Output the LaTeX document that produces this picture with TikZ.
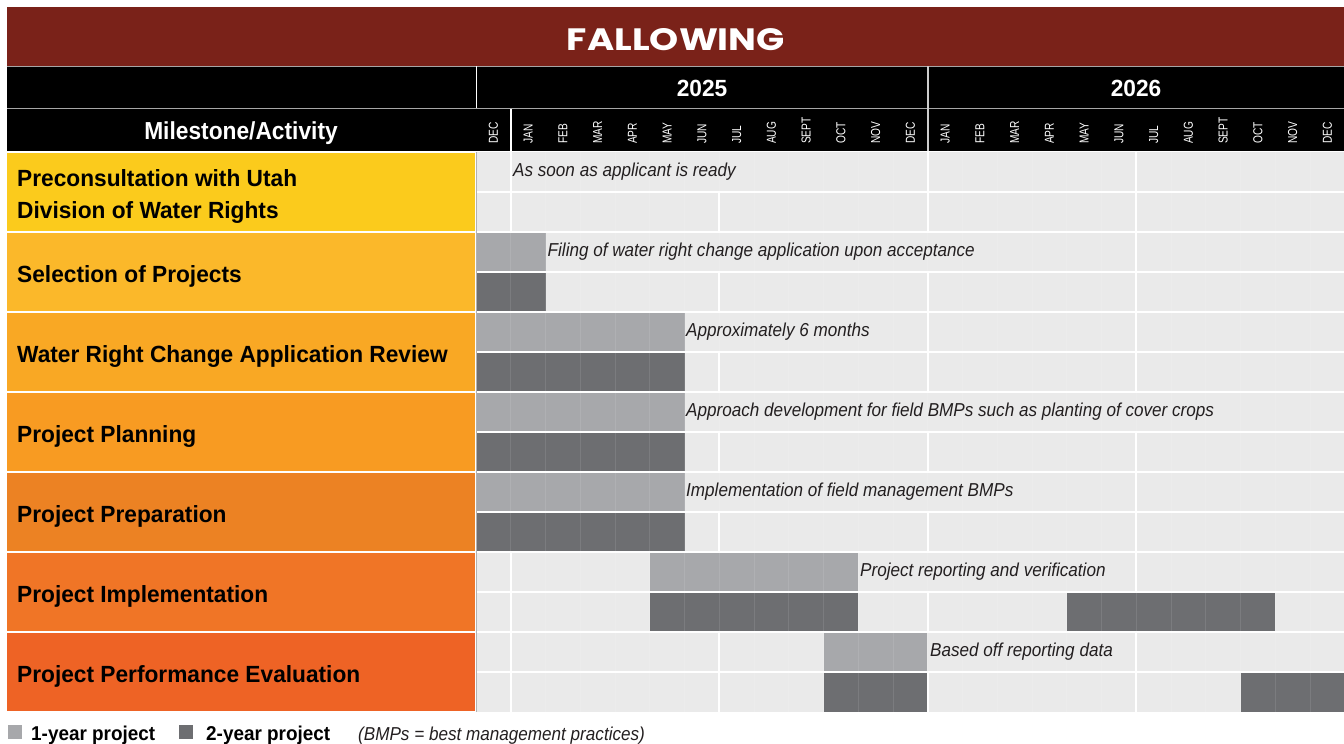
\documentclass[tikz,border=0pt]{standalone}
\usepackage{fontspec}
\usepackage{graphicx}
\setmainfont{Liberation Sans}[FakeStretch=0.97]
\newfontfamily\notefont{Liberation Sans}[FakeStretch=0.915]
\newfontfamily\headfont{Liberation Sans}[FakeStretch=0.925]
\newfontfamily\legfont{Liberation Sans}[FakeStretch=0.945]
\newfontfamily\titlefont{Poppins}
\newfontfamily\monthfont{Liberation Sans}[FakeStretch=0.78]
\definecolor{titlered}{HTML}{7A2219}
\definecolor{cellgray}{HTML}{EAEAEA}
\definecolor{barlight}{HTML}{A7A8AB}
\definecolor{bardark}{HTML}{6D6E71}
\definecolor{notegray}{HTML}{231F20}
\definecolor{rowa}{HTML}{FBCB1C}
\definecolor{rowb}{HTML}{FBB82A}
\definecolor{rowc}{HTML}{F9A824}
\definecolor{rowd}{HTML}{F89B22}
\definecolor{rowe}{HTML}{EC8223}
\definecolor{rowf}{HTML}{F07526}
\definecolor{rowg}{HTML}{EE6325}

\begin{document}
\begin{tikzpicture}[x=1pt, y=-1pt,
		rowlabel/.style={anchor=base west, inner sep=0pt, align=left, font=\bfseries\fontsize{23.4}{32}\selectfont},
		note/.style={anchor=base west, inner sep=0pt, text=notegray, font=\notefont\itshape\fontsize{18.7}{20}\selectfont},
		month/.style={anchor=west, rotate=90, inner sep=0pt, text=white, font=\monthfont\fontsize{13}{14}\selectfont},
		head/.style={anchor=base, inner sep=0pt, text=white, font=\bfseries\fontsize{23.4}{26}\selectfont},
		legtext/.style={anchor=base west, inner sep=0pt, font=\legfont\bfseries\fontsize{20}{22}\selectfont},
		onebar/.style={fill=barlight},
		twobar/.style={fill=bardark},
		gridline/.style={white, line width=2pt},
		monthline/.style={white, opacity=0.1, line width=0.6pt}]
		\useasboundingbox (0,0) rectangle (1344,744);
		% header bands
		\fill[titlered] (7,7) rectangle (1344,66);
		\fill[black] (7,66) rectangle (1344,151);
		\draw[gray!70, line width=1pt] (7,66) -- (1344,66);
		\draw[gray!70, line width=1.5pt] (7,108.5) -- (1344,108.5);
		\draw[white, line width=1pt] (476,66) -- (476,108);
		\draw[white, line width=1.5pt] (511,109) -- (511,151);
		\draw[gray!40, line width=2pt] (928,66) -- (928,151);
		\node[inner sep=0pt, text=white] (title) at (676,40) {\resizebox{218pt}{22pt}{\titlefont\bfseries FALLOWING}};
		\node[head] (y25) at (702,96.7) {2025};
		\node[head] (y26) at (1136,96.7) {2026};
		\node[head, font=\headfont\bfseries\fontsize{24.6}{26}\selectfont] (mile) at (241,139.3) {Milestone/Activity};
		\foreach \m [count=\i from 0] in {DEC,JAN,FEB,MAR,APR,MAY,JUN,JUL,AUG,SEPT,OCT,NOV,DEC,JAN,FEB,MAR,APR,MAY,JUN,JUL,AUG,SEPT,OCT,NOV,DEC}
			\node[month] (m\i) at ({476+34.75*(\i+0.5)}, 144) {\m};
		% activity column
		\foreach \c [count=\r from 0] in {rowa,rowb,rowc,rowd,rowe,rowf,rowg}
			\fill[\c] (7,{152+80*\r+0.75}) rectangle (475,{232+80*\r-0.75});
		\node[rowlabel] (pre) at (17,218.5) {Preconsultation with Utah\\Division of Water Rights};
		\node[rowlabel] (sel) at (17,282.5) {Selection of Projects};
		\node[rowlabel] (rev) at (17,362.5) {Water Right Change Application Review};
		\node[rowlabel] (plan) at (17,442.5) {Project Planning};
		\node[rowlabel] (prep) at (17,522.5) {Project Preparation};
		\node[rowlabel] (impl) at (17,602.5) {Project Implementation};
		\node[rowlabel] (eval) at (17,682.5) {Project Performance Evaluation};
		% timeline cells
		\fill[cellgray] (476,152) rectangle (1344,712);
		\foreach \r in {0,...,6}
			\foreach \i in {1,7,13,19}
				\draw[gridline] ({476+34.75*\i},{192+80*\r}) -- ({476+34.75*\i},{232+80*\r});
		\foreach \r/\i in {0/1,0/13,0/19,1/19,2/13,2/19,4/19,5/1,5/19,6/1,6/7,6/19}
			\draw[gridline] ({476+34.75*\i},{152+80*\r}) -- ({476+34.75*\i},{192+80*\r});
		% bars
		\fill[onebar] (476,232) rectangle (545.5,272);
		\fill[twobar] (476,272) rectangle (545.5,312);
		\foreach \r in {2,3,4} {
			\fill[onebar] (476,{152+80*\r}) rectangle (684.5,{192+80*\r});
			\fill[twobar] (476,{192+80*\r}) rectangle (684.5,{232+80*\r});
		}
		\fill[onebar] (650,552) rectangle (858.25,592);
		\fill[twobar] (650,592) rectangle (858.25,632);
		\fill[twobar] (1066.75,592) rectangle (1275.25,632);
		\fill[onebar] (823.5,632) rectangle (927,672);
		\fill[twobar] (823.5,672) rectangle (927,712);
		\fill[twobar] (1240.75,672) rectangle (1344,712);
		\foreach \i in {1,...,24}
			\draw[monthline] ({476+34.75*\i},152) -- ({476+34.75*\i},712);
		\foreach \j in {1,...,13}
			\draw[gridline] (476,{152+40*\j}) -- (1344,{152+40*\j});
		\draw[gray!60, line width=1pt] (476,152) -- (476,712);
		% notes
		\node[note] (n1) at (513,176) {As soon as applicant is ready};
		\node[note] (n2) at (547.5,256) {Filing of water right change application upon acceptance};
		\node[note] (n3) at (686,336) {Approximately 6 months};
		\node[note] (n4) at (686,416) {Approach development for field BMPs such as planting of cover crops};
		\node[note] (n5) at (686,496) {Implementation of field management BMPs};
		\node[note] (n6) at (860,576) {Project reporting and verification};
		\node[note] (n7) at (930,656) {Based off reporting data};
		% legend
		\fill[barlight] (8,725) rectangle (22,739);
		\node[legtext] (leg1) at (31,740) {1-year project};
		\fill[bardark] (179,725) rectangle (193,739);
		\node[legtext] (leg2) at (206,740) {2-year project};
		\node[note] (bmp) at (358,740) {(BMPs = best management practices)};
	\end{tikzpicture}
\end{document}
